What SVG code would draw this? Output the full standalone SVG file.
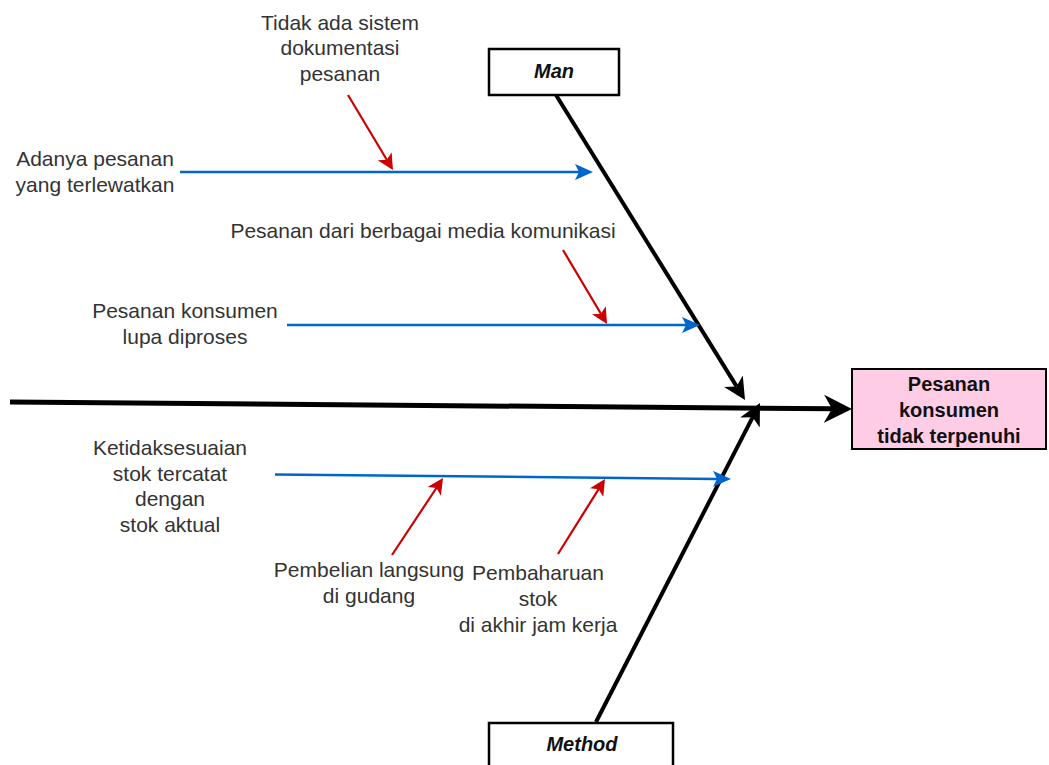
<svg xmlns="http://www.w3.org/2000/svg" width="1049" height="765" viewBox="0 0 1049 765">
<style>
.lbl{font-family:"Liberation Sans",Arial,sans-serif;font-size:21px;fill:#333;text-anchor:middle}
.box{fill:#fff;stroke:#000;stroke-width:2.5}
.cat{font-family:"Liberation Sans",Arial,sans-serif;font-size:20px;font-weight:bold;font-style:italic;fill:#111;text-anchor:middle}
.eff{font-family:"Liberation Sans",Arial,sans-serif;font-size:20px;font-weight:bold;fill:#111;text-anchor:middle}
.blue{stroke:#0066CC;stroke-width:2.5;fill:none;marker-end:url(#mb)}
.red{stroke:#CC0000;stroke-width:2.2;fill:none;marker-end:url(#mr)}
.bone{stroke:#000;stroke-width:4;fill:none;marker-end:url(#mk)}
</style>
<defs>
<marker id="mb" markerUnits="userSpaceOnUse" viewBox="0 0 18 16" refX="4" refY="8" markerWidth="18" markerHeight="16" orient="auto"><path d="M0,0 L18,8 L0,16 L4,8 Z" fill="#0066CC"/></marker>
<marker id="mr" markerUnits="userSpaceOnUse" viewBox="0 0 16 16" refX="4" refY="8" markerWidth="16" markerHeight="16" orient="auto"><path d="M0,0 L16,8 L0,16 L4,8 Z" fill="#CC0000"/></marker>
<marker id="mk" markerUnits="userSpaceOnUse" viewBox="0 0 22 22" refX="6" refY="11" markerWidth="22" markerHeight="22" orient="auto"><path d="M0,0 L22,11 L0,22 L6,11 Z" fill="#000"/></marker>
<marker id="ms" markerUnits="userSpaceOnUse" viewBox="0 0 28 28" refX="8" refY="14" markerWidth="28" markerHeight="28" orient="auto"><path d="M0,0 L28,14 L0,28 L8,14 Z" fill="#000"/></marker>
</defs>
<g id="connectors">
<line x1="10" y1="402" x2="832" y2="408.8" stroke="#000" stroke-width="5" marker-end="url(#ms)"/>
<line class="bone" x1="556" y1="95" x2="736.6" y2="386.4"/>
<line class="bone" x1="596" y1="722" x2="752.7" y2="417.2"/>
<line class="blue" x1="180" y1="172" x2="579" y2="172"/>
<line class="blue" x1="287" y1="325" x2="686" y2="325"/>
<line class="blue" x1="275" y1="474.5" x2="717" y2="478.9"/>
<line class="red" x1="348" y1="95" x2="386.8" y2="159.7"/>
<line class="red" x1="563" y1="250" x2="600.9" y2="313.7"/>
<line class="red" x1="392" y1="555" x2="436.4" y2="488"/>
<line class="red" x1="558" y1="554" x2="598.6" y2="489.2"/>
</g>
<g id="effect">
<rect x="852" y="369" width="194" height="80" fill="#FFCCE6" stroke="#000" stroke-width="2"/>
<text class="eff" x="949" y="391">Pesanan</text>
<text class="eff" x="949" y="417">konsumen</text>
<text class="eff" x="949" y="443">tidak terpenuhi</text>
</g>
<g id="man">
<rect class="box" x="489" y="49" width="130" height="46"/>
<text class="cat" x="554" y="78">Man</text>
</g>
<g id="method">
<rect class="box" x="489" y="723" width="184" height="50"/>
<text class="cat" x="582" y="751">Method</text>
</g>
<g id="cause-dokumentasi">
<text class="lbl" x="340" y="30">Tidak ada sistem</text>
<text class="lbl" x="340" y="55">dokumentasi</text>
<text class="lbl" x="340" y="81">pesanan</text>
</g>
<g id="cause-terlewat">
<text class="lbl" x="95" y="166">Adanya pesanan</text>
<text class="lbl" x="95" y="192">yang terlewatkan</text>
</g>
<g id="cause-media">
<text class="lbl" x="423" y="238">Pesanan dari berbagai media komunikasi</text>
</g>
<g id="cause-lupa">
<text class="lbl" x="185" y="318">Pesanan konsumen</text>
<text class="lbl" x="185" y="344">lupa diproses</text>
</g>
<g id="cause-stok">
<text class="lbl" x="170" y="455">Ketidaksesuaian</text>
<text class="lbl" x="170" y="481">stok tercatat</text>
<text class="lbl" x="170" y="506">dengan</text>
<text class="lbl" x="170" y="532">stok aktual</text>
</g>
<g id="cause-pembelian">
<text class="lbl" x="369" y="577">Pembelian langsung</text>
<text class="lbl" x="369" y="603">di gudang</text>
</g>
<g id="cause-pembaharuan">
<text class="lbl" x="538" y="580">Pembaharuan</text>
<text class="lbl" x="538" y="606">stok</text>
<text class="lbl" x="538" y="632">di akhir jam kerja</text>
</g>
</svg>
